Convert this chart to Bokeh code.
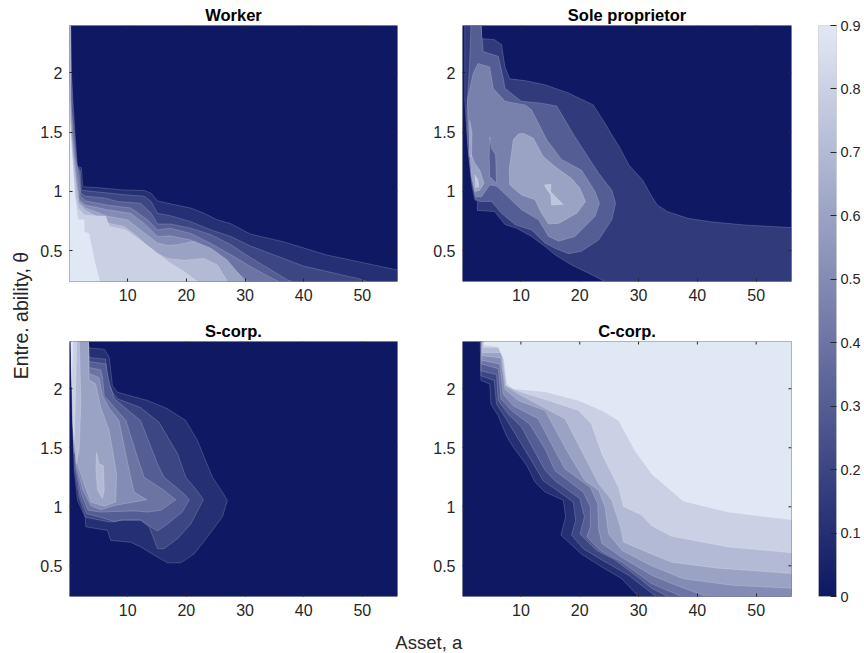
from math import pi
import numpy as np
from bokeh.embed import file_html
from bokeh.resources import INLINE
from bokeh.plotting import figure
from bokeh.layouts import row, column
from bokeh.models import (BoxAnnotation, ColumnDataSource, FixedTicker, LinearColorMapper, Range1d)
from bokeh.core.properties import value

a_lim = (0.07, 56.0)
theta_lim = (0.24, 2.4)
a_ticks = [10, 20, 30, 40, 50]
theta_ticks = [0.5, 1, 1.5, 2]
theta_labels = {0.5: "0.5", 1: "1", 1.5: "1.5", 2: "2"}
bar_ticks = [0, 0.1, 0.2, 0.3, 0.4, 0.5, 0.6, 0.7, 0.8, 0.9]
bar_labels = {0: "0", 0.1: "0.1", 0.2: "0.2", 0.3: "0.3", 0.4: "0.4", 0.5: "0.5", 0.6: "0.6", 0.7: "0.7", 0.8: "0.8", 0.9: "0.9"}
titles = ["Worker", "Sole proprietor", "S-corp.", "C-corp."]
x_label = "Asset, a"
y_label = "Entre. ability, \u03b8"

# Share of each occupation: filled regions, as (level, outline in (a, theta))
worker_contours = [
    (0.1, [(.3,2.4),(.41,2),(.75,1.69),(1.09,1.435),(1.43,1.21),(2.1,1.2),(2.34,1.04),(5.4,1.03),(9.1,1.013),(12.8,1.008),(14,.985),(15.07,.92),(17.3,.895),(20.75,.86),(23,.816),(25.3,.76),(27.6,.727),(30.9,.64),(36.5,.576),(44,.463),(56,.337),(56,.24),(.07,.24),(.07,2.4)]),
    (0.2, [(.24,2.4),(.35,2),(.64,1.69),(.98,1.435),(1.32,1.21),(1.9,1.18),(2.1,1.01),(6,.99),(9.95,.97),(12.8,.96),(14,.915),(15.07,.815),(17.3,.795),(20.75,.745),(24.2,.675),(27.6,.62),(30.9,.54),(40,.37),(49.7,.26),(50.8,.24),(.07,.24),(.07,2.4)]),
    (0.3, [(.18,2.4),(.3,2),(.4,1.69),(.87,1.435),(1.2,1.24),(1.72,1.17),(2,.985),(2.8,.96),(6,.945),(8.25,.915),(12.2,.9),(14,.815),(15.07,.725),(17.3,.725),(20.75,.69),(24.2,.635),(27.6,.55),(31,.44),(37.2,.255),(38,.24),(.07,.24),(.07,2.4)]),
    (0.4, [(.13,2.4),(.24,2),(.3,1.77),(.64,1.49),(.98,1.295),(1.66,1.125),(1.9,.96),(2.8,.92),(6.55,.885),(10.5,.86),(13.4,.76),(15.07,.675),(17.3,.69),(20.75,.645),(24.2,.56),(27.6,.465),(31,.365),(34.9,.26),(35.8,.24),(.07,.24),(.07,2.4)]),
    (0.5, [(.1,2.4),(.18,1.77),(.47,1.49),(.87,1.295),(1.43,1.095),(1.72,.93),(2.8,.885),(6.55,.845),(10.5,.815),(12.8,.73),(15.07,.62),(17.3,.625),(20.75,.59),(24.2,.49),(27,.395),(30.4,.24),(.07,.24),(.07,2.4)]),
    (0.6, [(.07,1.9),(.13,1.83),(.41,1.49),(.75,1.295),(1.2,1.095),(1.66,.915),(2.8,.86),(6.55,.79),(9.95,.76),(12.2,.675),(15.07,.565),(16.8,.545),(18.5,.55),(21.3,.58),(24.2,.52),(27,.42),(30,.24),(.07,.24)]),
    (0.7, [(.07,1.77),(.3,1.49),(.64,1.295),(1.09,1.095),(1.6,.9),(2.8,.84),(6.85,.73),(9.4,.705),(11.65,.62),(14.5,.49),(16.8,.435),(19.6,.42),(23,.435),(25.3,.38),(27,.24),(.07,.24)]),
    (0.8, [(.07,1.63),(.18,1.49),(.53,1.295),(1.09,.955),(1.55,.86),(2.57,.8),(6.25,.79),(6.85,.705),(9.7,.675),(14,.52),(16.8,.41),(19.6,.325),(21.9,.24),(.07,.24)]),
    (0.9, [(.07,2.4),(.2,2.4),(.2,2),(.15,1.6),(.5,1.3),(.98,.955),(1.55,.76),(2.57,.76),(2.57,.66),(3.4,.645),(4.3,.42),(5.25,.24),(.07,.24)]),
]

sole_contours = [
    (0.15, [(.45,2.4),(.45,1.77),(.8,1.49),(1.3,1.21),(1.7,1.04),(2.15,.93),(2.6,.915),(2.6,.84),(5.55,.83),(6.15,.79),(7.3,.72),(9.25,.69),(11.8,.62),(14.1,.535),(15.8,.465),(18.6,.38),(21.5,.31),(24.3,.24),(56,.24),(56,.695),(48,.717),(42.3,.744),(38.4,.773),(34.9,.83),(33.2,.885),(32.1,.97),(30.7,1.096),(28.4,1.22),(26.7,1.38),(25.3,1.49),(24.3,1.575),(22.3,1.73),(18.1,1.83),(14.1,1.9),(10.7,1.935),(8.1,1.95),(7.3,2.05),(6.7,2.24),(5.55,2.28),(3.3,2.29),(3.3,2.4)]),
    (0.3, [(1.5,2.4),(1.25,2.05),(.8,1.69),(1.02,1.35),(1.6,1.1),(2.3,.935),(3,.915),(5,.915),(6.7,.815),(9,.72),(11.8,.675),(14.1,.565),(15.8,.52),(18.1,.475),(20.3,.495),(23.2,.59),(25.45,.76),(26.1,.9),(25.45,1.01),(23.2,1.155),(19.2,1.46),(16.1,1.72),(13.5,1.745),(10.1,1.76),(7.3,1.87),(7,1.955),(6.15,2.14),(3.6,2.18),(3.2,2.4)]),
    (0.45, [(2.7,2.08),(4.7,2.05),(5.3,1.87),(7.3,1.76),(10.7,1.73),(11.8,1.69),(14.4,1.435),(16.9,1.27),(20.3,1.18),(22.6,1),(23.35,.9),(22.6,.79),(19.2,.62),(16.4,.58),(14.7,.62),(13,.76),(10.1,.845),(7.8,.955),(5.85,1.045),(4.7,1.055),(3.3,.955),(2.3,.955),(1.6,1.18),(1.15,1.49),(.9,1.77),(1.9,2)]),
    (0.3, [(4.7,1.46),(5,1.365),(5.7,1.31),(5.85,1.07),(4.7,1.125),(4.6,1.295)]),
    (0.6, [(10.4,1.49),(12.1,1.45),(13.8,1.295),(15.8,1.21),(18.6,1.11),(20,1.03),(21,.915),(19.5,.815),(16.4,.73),(14.7,.725),(13.5,.815),(12.4,.93),(10.1,.97),(8.1,1.055),(8,1.18),(8.7,1.435),(9.55,1.485)]),
    (0.6, [(1.3,1.35),(2.15,1.24),(3,1.18),(3.75,1.07),(3,1.01),(2.15,1),(1.6,1.125)]),
    (0.6, [(1.3,1.6),(1.7,1.49),(1.6,1.295),(1.25,1.295)]),
    (0.75, [(14,1.055),(15.1,1.06),(15.05,1),(16.1,.945),(17.2,.89),(15.2,.885),(15.1,.97),(14.5,1.01)]),
    (0.75, [(2.15,1.14),(2.7,1.1),(2.85,1.04),(2.3,1.03)]),
]

scorp_contours = [
    (0.1, [(.3,2.4),(.58,1.73),(.87,1.31),(1.43,1.055),(2.74,.91),(2.85,.83),(6.55,.8),(7.1,.715),(10.5,.7),(12.2,.66),(14.5,.59),(16.8,.525),(19.05,.525),(21.3,.6),(23.6,.745),(26.15,.915),(27,1.055),(25.6,1.165),(24.45,1.25),(21.9,1.56),(19.9,1.73),(16.8,1.83),(13.4,1.9),(8.25,1.97),(7.4,2.025),(6.85,2.265),(6,2.335),(3.4,2.345),(3.3,2.4)]),
    (0.2, [(.35,2.4),(.64,1.73),(.98,1.31),(1.66,1.08),(2.85,.91),(7.1,.87),(9.1,.885),(12.2,.885),(13.65,.83),(15.07,.645),(16.2,.645),(18.5,.73),(20.75,.855),(22.9,1.06),(21.6,1.15),(19.9,1.25),(18.5,1.45),(15.35,1.715),(12.2,1.84),(8.25,1.915),(7.4,1.97),(6.55,2.07),(6.25,2.25),(3.4,2.265),(3.3,2.4)]),
    (0.3, [(.41,2.4),(.75,1.73),(1.1,1.335),(1.9,1.08),(3,.94),(5.4,.91),(7.7,.875),(9.1,.89),(12.2,.89),(13.9,.83),(15.07,.795),(16.8,.855),(19.3,.955),(20.5,1.06),(19.6,1.11),(16.2,1.25),(15.07,1.365),(12.2,1.73),(7.7,1.915),(6.85,2.055),(6.25,2.21),(3.4,2.23),(3.3,2.4)]),
    (0.4, [(.47,2.4),(.87,1.73),(1.2,1.335),(2.1,1.11),(3.25,.97),(5.4,.955),(11.1,.965),(13.4,.955),(15.65,.97),(18.2,1.06),(15.9,1.15),(12.8,1.25),(11.65,1.42),(9.7,1.73),(7.95,1.83),(6,1.94),(5.7,2.095),(5.4,2.16),(3.4,2.18),(3.3,2.4)]),
    (0.5, [(.52,2.4),(.98,1.73),(1.32,1.335),(2.35,1.14),(3.7,1.01),(5.4,.975),(7.7,1.01),(13.25,1.06),(11.1,1.125),(10.5,1.25),(8.5,1.73),(6.85,1.835),(5.7,1.94),(5.1,2.095),(3.4,2.13),(3.3,2.4)]),
    (0.6, [(.64,2.4),(1.1,1.73),(1.43,1.365),(2.57,1.195),(3.7,1.04),(6,1.005),(7.95,1.04),(8.1,1.28),(6.85,1.645),(5.4,1.84),(4.55,2.04),(3.4,2.075),(3.3,2.4)]),
    (0.7, [(.41,2.4),(.75,1.73),(1.2,1.365),(1.72,1.48),(2,1.87),(1.77,2.4)]),
    (0.7, [(4.7,1.46),(5.1,1.365),(5.85,1.35),(6,1.14),(5.7,1.07),(4.85,1.14),(4.55,1.335)]),
    (0.8, [(.35,2.4),(.58,1.73),(.87,1.45),(.98,1.73),(1.32,2.4)]),
    (0.9, [(.3,2.4),(.41,2.01),(.64,2.4)]),
]

ccorp_contours = [
    (0.1, [(3.07,2.4),(3.2,2.07),(4.7,2.04),(4.9,1.87),(6.15,1.77),(7.55,1.6),(8.7,1.505),(11,1.35),(12.4,1.21),(14.1,1.125),(17.2,1.055),(17.6,.915),(16.8,.76),(20.3,.6),(23.75,.49),(27.15,.39),(30,.24),(56,.24),(56,2.4)]),
    (0.2, [(3.2,2.4),(3.2,2.11),(5.45,2.07),(5.85,1.87),(7.3,1.76),(8.7,1.645),(10.1,1.53),(12.1,1.365),(13.8,1.22),(15.8,1.15),(18.9,1.04),(19.3,.885),(18.6,.76),(20.6,.645),(23.75,.55),(28.3,.42),(32.2,.27),(33,.24),(56,.24),(56,2.4)]),
    (0.3, [(3.24,2.4),(3.24,2.15),(5.85,2.12),(6.15,1.9),(7.85,1.785),(10.1,1.675),(12.1,1.49),(14.1,1.31),(15.8,1.22),(20,1.07),(20.8,.915),(20.05,.77),(22.9,.63),(26,.55),(30,.4),(32.2,.31),(35,.24),(56,.24),(56,2.4)]),
    (0.4, [(3.3,2.4),(3.3,2.21),(6.15,2.17),(6.6,1.915),(8.4,1.815),(11.5,1.7),(14.1,1.49),(15.8,1.305),(20.6,1.125),(21.8,1),(21.8,.83),(21.2,.745),(23.5,.63),(27.2,.53),(32.2,.35),(37.3,.24),(56,.24),(56,2.4)]),
    (0.5, [(3.35,2.4),(3.35,2.24),(6.4,2.21),(7,1.955),(8.7,1.855),(12.95,1.745),(15.8,1.475),(17.5,1.32),(21.8,1.165),(23.05,1.025),(23.2,.815),(23.75,.69),(27.2,.57),(32.2,.42),(35.6,.35),(41.5,.24),(56,.24),(56,2.4)]),
    (0.6, [(3.4,2.4),(3.4,2.28),(6.6,2.26),(7.3,1.995),(9.55,1.9),(14.1,1.815),(18.1,1.45),(20.9,1.22),(23.2,1.14),(24.3,1),(24.9,.77),(27.2,.63),(32.2,.5),(37.6,.39),(46,.335),(56,.31),(56,2.4)]),
    (0.7, [(3.45,2.4),(3.45,2.305),(6.7,2.305),(7.4,2.025),(10.1,1.94),(17.5,1.745),(20.3,1.475),(23.2,1.195),(25.45,1.055),(26.9,.83),(27.45,.7),(32.2,.6),(35.6,.53),(43.5,.48),(56,.435),(56,2.4)]),
    (0.8, [(3.6,2.4),(3.6,2.35),(6.15,2.35),(7,2.265),(7.55,2.025),(10.1,1.97),(14.65,1.9),(19.8,1.815),(22,1.7),(23.75,1.45),(26.6,1.165),(27.45,1),(30.5,.93),(32.2,.84),(35.6,.75),(45.2,.66),(56,.61),(56,2.4)]),
    (0.9, [(3.75,2.4),(3.75,2.37),(6.15,2.355),(7.1,2.25),(7.7,2.04),(8.7,2),(14.1,1.975),(19.8,1.9),(23.75,1.815),(26.6,1.73),(29.4,1.475),(32.2,1.28),(37.6,1.05),(45.2,.955),(56,.89),(56,2.4)]),
]

low_rgb, high_rgb = np.array([14, 24, 99]), np.array([225, 232, 245])
palette = ["#%02x%02x%02x" % tuple(int(round(c)) for c in low_rgb + (high_rgb - low_rgb) * t) for t in np.linspace(0, 1, 256)]
mapper = LinearColorMapper(palette=palette, low=0, high=0.9)
INK = "#262626"
FONT = "Liberation Sans"


def panel(title, contours, w, h, left, right, top, bottom):
    p = figure(width=w, height=h, x_range=Range1d(*a_lim), y_range=Range1d(*theta_lim),
               output_backend="svg", toolbar_location=None, tools="",
               min_border_left=left, min_border_right=right, min_border_top=top, min_border_bottom=bottom,
               outline_line_color=None, border_fill_color="white", background_fill_color=palette[0])
    p.grid.visible = False
    p.title.text = title
    p.title.align = "center"
    p.title.text_font = FONT
    p.title.text_font_size = "16.5px"
    p.title.text_font_style = "bold"
    p.title.text_color = "black"
    p.title.standoff = 4
    src = ColumnDataSource(dict(
        xs=[[q[0] for q in c[1]] for c in contours],
        ys=[[q[1] for q in c[1]] for c in contours],
        level=[c[0] for c in contours]))
    p.patches("xs", "ys", source=src, fill_color={"field": "level", "transform": mapper},
              line_color="white", line_alpha=0.3, line_width=0.6)
    for ax, ticks, over in ((p.xaxis[0], a_ticks, {}), (p.yaxis[0], theta_ticks, theta_labels)):
        ax.ticker = FixedTicker(ticks=ticks)
        ax.major_label_overrides = over
        ax.major_tick_in, ax.major_tick_out = 3, 0
        ax.minor_tick_line_color = None
        ax.axis_line_color = None
        ax.major_tick_line_color = INK
        ax.major_label_text_font = FONT
        ax.major_label_text_font_size = "16px"
        ax.major_label_text_color = INK
        ax.major_label_standoff = 7
    # tick marks on the closing top and right sides of the box
    p.ray(x=a_ticks, y=[theta_lim[1]] * len(a_ticks), length=3, length_units="screen", angle=-pi / 2,
          line_color=INK, line_width=1)
    p.ray(x=[a_lim[1]] * len(theta_ticks), y=theta_ticks, length=3, length_units="screen", angle=pi,
          line_color=INK, line_width=1)
    p.add_layout(BoxAnnotation(fill_alpha=0, line_color=INK, line_width=1))
    return p


p1 = panel(titles[0], worker_contours, 365, 310, 35, 2, 25, 29)
p2 = panel(titles[1], sole_contours, 394, 310, 63, 2, 25, 29)
p3 = panel(titles[2], scorp_contours, 365, 316, 35, 2, 31, 30)
p4 = panel(titles[3], ccorp_contours, 394, 316, 63, 2, 31, 30)

# colour bar
bar = figure(width=70, height=626, x_range=Range1d(0, 1), y_range=Range1d(0, 0.9),
             output_backend="svg", toolbar_location=None, tools="",
             min_border_left=25, min_border_right=25, min_border_top=25, min_border_bottom=30,
             outline_line_color=None, x_axis_location=None, y_axis_location="right")
bar.grid.visible = False
bar.image(image=[np.linspace(0, 0.9, 256).reshape(256, 1)], x=0, y=0, dw=1, dh=0.9, color_mapper=mapper)
ax = bar.yaxis[0]
ax.ticker = FixedTicker(ticks=bar_ticks)
ax.major_label_overrides = bar_labels
ax.major_tick_in, ax.major_tick_out = 6, 0
ax.minor_tick_line_color = None
ax.axis_line_color = None
ax.major_tick_line_color = INK
ax.major_label_text_font = FONT
ax.major_label_text_font_size = "14.5px"
ax.major_label_text_color = INK
ax.major_label_standoff = 4
bar.add_layout(BoxAnnotation(fill_alpha=0, line_color=INK, line_width=1))

# shared axis titles
left_strip = figure(width=34, height=626, x_range=Range1d(0, 1), y_range=Range1d(0, 1),
                    output_backend="svg", toolbar_location=None, tools="",
                    min_border=0, outline_line_color=None, x_axis_location=None, y_axis_location=None)
left_strip.grid.visible = False
left_strip.text(x=[0.59], y=[0.492], text=[y_label], angle=pi / 2, text_align="center", text_baseline="middle",
                text_font=value(FONT), text_font_size="19.5px", text_color=INK)

bottom_strip = figure(width=860, height=27, x_range=Range1d(0, 1), y_range=Range1d(0, 1),
                      output_backend="svg", toolbar_location=None, tools="",
                      min_border=0, outline_line_color=None, x_axis_location=None, y_axis_location=None)
bottom_strip.grid.visible = False
bottom_strip.text(x=[0.498], y=[0.4], text=[x_label], text_align="center", text_baseline="middle",
                  text_font=value(FONT), text_font_size="18.5px", text_color=INK)

layout = column(row(left_strip, column(p1, p3), column(p2, p4), bar), bottom_strip)
open("out.html", "w").write(file_html(layout, INLINE))
